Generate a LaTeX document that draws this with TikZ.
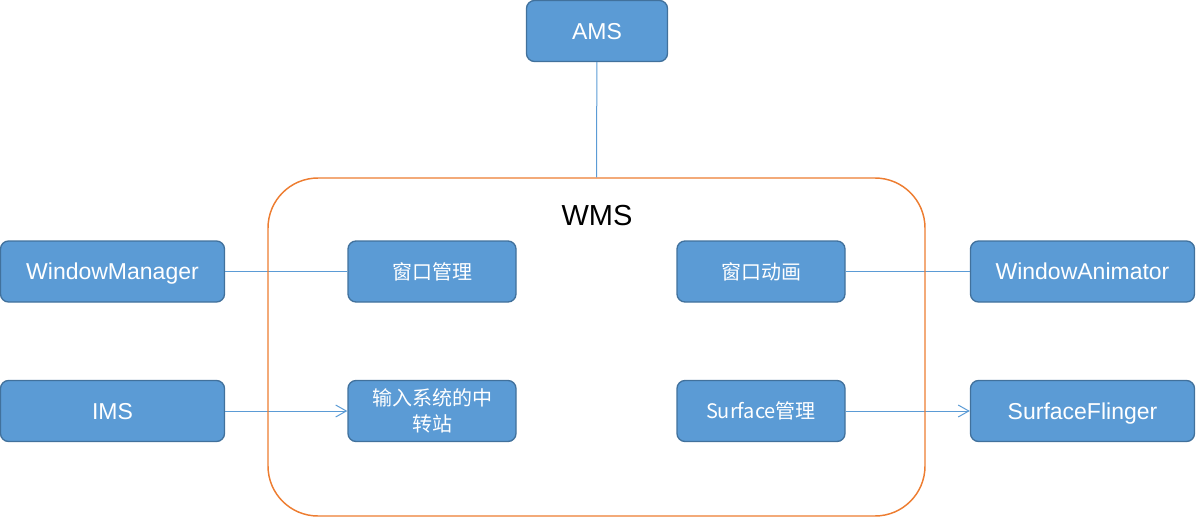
\documentclass[tikz,border=0pt]{standalone}
\usepackage{fontspec}
\setmainfont{Liberation Sans}
\newfontfamily\cjk{Noto Sans CJK SC}
\usepackage{xcolor}
\usetikzlibrary{arrows.meta,positioning}
\definecolor{boxblue}{HTML}{5B9BD5}
\definecolor{boxedge}{HTML}{41719C}
\definecolor{wmsorange}{HTML}{ED7D31}
\tikzset{>={Straight Barb[length=8pt,width=9pt]}}

\begin{document}
\begin{tikzpicture}[x=0.75pt,y=-0.75pt,
                    outerbox/.style={draw=boxedge, line width=1pt, fill=boxblue, rounded corners=6pt,
                                     minimum width=168pt, minimum height=45.75pt, inner sep=0pt,
                                     text=white, font=\fontsize{17.25}{20}\selectfont,
                                     text height=12.4pt, text depth=0pt},
                    innerbox/.style={draw=boxedge, line width=1pt, fill=boxblue, rounded corners=6pt,
                                     minimum width=126pt, minimum height=45.75pt, inner sep=0pt,
                                     text=white, align=center,
                                     font=\cjk\fontsize{15}{19.5}\selectfont},
                    link/.style={boxblue, line width=0.75pt},
                    wmsframe/.style={draw=wmsorange, line width=1.1pt, rounded corners=37.5pt,
                                     minimum width=492.75pt, minimum height=253.5pt, inner sep=0pt},
                   ]

\useasboundingbox (0,0) rectangle (1196,518);

% outside services
\node[outerbox, minimum width=105.75pt] (ams) at (597,31) {AMS};
\node[outerbox] (wm) at (112.5,271.5) {WindowManager};
\node[outerbox] (ims) at (112.5,411) {IMS};
\node[outerbox] (wa) at (1082.5,271.5) {WindowAnimator};
\node[outerbox] (sf) at (1082.5,411) {SurfaceFlinger};

% parts of the WMS
\node[innerbox] (winmgr) at (432,271.5) {窗口管理};
\node[innerbox] (input) at (432,411) {输入系统的中\\转站};
\node[innerbox] (winanim) at (761,271.5) {窗口动画};
\node[innerbox] (surfmgr) at (761,411) {Surface管理};

\draw[link] (wm) -- (winmgr);
\draw[link,->] (ims) -- (input);
\draw[link] (winanim) -- (wa);
\draw[link,->] (surfmgr) -- (sf);

\node[wmsframe] (wms) at (596.5,347) {};
\node[font=\fontsize{21.75}{24}\selectfont] (wmslabel) at (597,216) {WMS};

\draw[link] (ams) -- (wms.north);

\end{tikzpicture}
\end{document}
